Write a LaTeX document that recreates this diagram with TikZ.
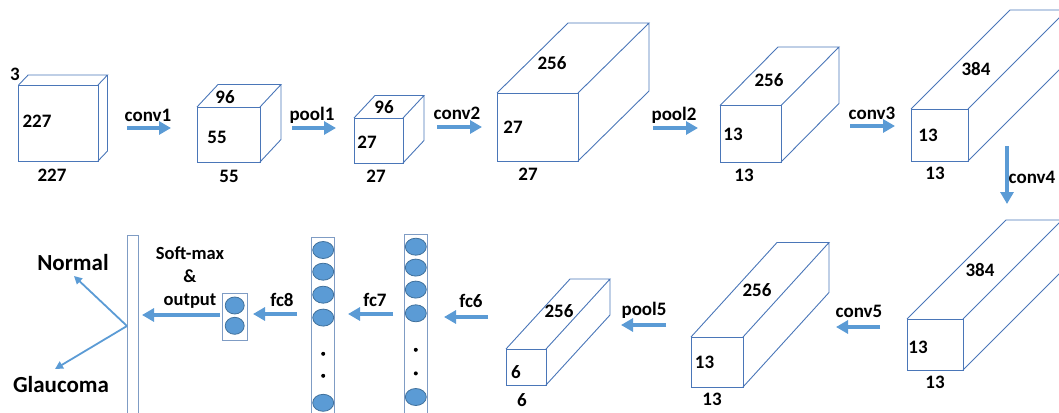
\documentclass[tikz,border=0pt]{standalone}
\usepackage{fontspec}
\setmainfont{Carlito}
\usetikzlibrary{arrows.meta,shapes.geometric}

\definecolor{edgeblue}{HTML}{4A76B8}
\definecolor{flowblue}{HTML}{5B9BD5}
\definecolor{cellline}{HTML}{41719C}
\definecolor{colline}{HTML}{7F9CC4}

% front corner (x1,y1), (x2,y2), depth (dx,dy)
\newcommand{\cuboid}[6]{%
  \draw[box] (#1,#2) rectangle (#3,#4);
  \draw[box] (#1,#2) -- ++(#5,-#6) -- ++({#3-#1},0) -- ++({-#5},#6)
    (#3,#4) -- ++(#5,-#6) -- ++(0,{#2-#4});
}

\begin{document}
\begin{tikzpicture}[x=1pt,y=-1pt,
  box/.style={edgeblue, line width=0.9pt},
  lbl/.style={font=\bfseries\fontsize{19}{20}\selectfont, inner sep=0pt},
  big/.style={font=\bfseries\fontsize{23}{25}\selectfont, inner sep=0pt},
  flow/.style={flowblue, line width=4.5pt, -{Triangle[length=12pt,width=13pt]}},
  ptr/.style={flowblue, line width=1.8pt, -{Triangle[length=8pt,width=8pt]}},
  cell/.style={ellipse, draw=cellline, fill=flowblue, line width=0.8pt,
    minimum width=21pt, minimum height=17pt, inner sep=0pt},
  col/.style={colline, line width=1pt}]

\useasboundingbox (0,0) rectangle (1059,412);

% top row
\cuboid{18.6}{85}{98}{161}{9.5}{10}
\node[lbl] (in-d) at (15,74) {3};
\node[lbl] (in-h) at (37,121) {227};
\node[lbl] (in-w) at (52,175) {227};

\cuboid{197}{107}{260}{162}{21}{22.5}
\node[lbl] (c1-d) at (225,97) {96};
\node[lbl] (c1-h) at (217,137) {55};
\node[lbl] (c1-w) at (229,176) {55};

\cuboid{354}{118}{403}{163}{21}{22.5}
\node[lbl] (p1-d) at (384,107) {96};
\node[lbl] (p1-h) at (367,142) {27};
\node[lbl] (p1-w) at (376,176) {27};

\cuboid{497}{93}{578}{161}{71}{70}
\node[lbl] (c2-d) at (552,63) {256};
\node[lbl] (c2-h) at (513,127) {27};
\node[lbl] (c2-w) at (528,174) {27};

\cuboid{720}{105.6}{781}{162}{58}{58.6}
\node[lbl] (p2-d) at (769,80) {256};
\node[lbl] (p2-h) at (733,134) {13};
\node[lbl] (p2-w) at (744,175) {13};

\cuboid{911}{109}{968}{161}{99}{99}
\node[lbl] (c3-d) at (976,69) {384};
\node[lbl] (c3-h) at (928,135) {13};
\node[lbl] (c3-w) at (935,173) {13};

% bottom row
\cuboid{907}{319}{963}{370}{99}{99}
\node[lbl] (c4-d) at (980,270) {384};
\node[lbl] (c4-h) at (918,347) {13};
\node[lbl] (c4-w) at (935,382) {13};

\cuboid{691}{337}{743}{387}{86}{94.5}
\node[lbl] (c5-d) at (757,290) {256};
\node[lbl] (c5-h) at (704.5,362) {13};
\node[lbl] (c5-w) at (712,399) {13};

\cuboid{506}{349}{546}{385}{64}{70}
\node[lbl] (p5-d) at (559,311) {256};
\node[lbl] (p5-h) at (516,372) {6};
\node[lbl] (p5-w) at (522,400) {6};

% arrows
\coordinate (a1s) at (127,128);  \coordinate (a1e) at (171,128);
\coordinate (a2s) at (292,128);  \coordinate (a2e) at (336,128);
\coordinate (a3s) at (437,127);  \coordinate (a3e) at (482,127);
\coordinate (a4s) at (653,128);  \coordinate (a4e) at (698,128);
\coordinate (a5s) at (850,126);  \coordinate (a5e) at (895,126);
\coordinate (a6s) at (1007,146); \coordinate (a6e) at (1007,204);
\coordinate (a7s) at (880,327);  \coordinate (a7e) at (836,327);
\coordinate (a8s) at (666,325);  \coordinate (a8e) at (621,325);
\coordinate (a9s) at (488,317);  \coordinate (a9e) at (444,317);
\coordinate (a10s) at (393,314); \coordinate (a10e) at (348,314);
\coordinate (a11s) at (297,314); \coordinate (a11e) at (253,314);
\coordinate (a12s) at (220,315); \coordinate (a12e) at (142,315);

\draw[flow] (a1s) -- (a1e);
\draw[flow] (a2s) -- (a2e);
\draw[flow] (a3s) -- (a3e);
\draw[flow] (a4s) -- (a4e);
\draw[flow] (a5s) -- (a5e);
\draw[flow] (a6s) -- (a6e);
\draw[flow] (a7s) -- (a7e);
\draw[flow] (a8s) -- (a8e);
\draw[flow] (a9s) -- (a9e);
\draw[flow] (a10s) -- (a10e);
\draw[flow] (a11s) -- (a11e);
\draw[flow] (a12s) -- (a12e);

\node[lbl] (l1) at (148,115) {conv1};
\node[lbl] (l2) at (312,115) {pool1};
\node[lbl] (l3) at (457,113) {conv2};
\node[lbl] (l4) at (674,115) {pool2};
\node[lbl] (l5) at (872,113) {conv3};
\node[lbl] (l6) at (1032,177) {conv4};
\node[lbl] (l7) at (859,311.5) {conv5};
\node[lbl] (l8) at (644,310) {pool5};
\node[lbl] (l9) at (471,301) {fc6};
\node[lbl] (l10) at (375,300) {fc7};
\node[lbl] (l11) at (282,300) {fc8};
\node[lbl, align=center, font=\bfseries\fontsize{18.5}{23}\selectfont] (l12) at (190,278) {Soft-max\\\&\\output};

% fully connected columns
\draw[col] (404,234) rectangle (427.6,420);
\foreach \y [count=\i] in {246.7,267.6,289.6,313.3,397}
  \node[cell] (f6-\i) at (415.8,\y) {};
\fill (415.8,349.8) circle[radius=2pt] (415.8,373.4) circle[radius=2pt];

\draw[col] (311.7,237) rectangle (334.7,420);
\foreach \y [count=\i] in {250,271.7,294.7,317.6,402.8}
  \node[cell] (f7-\i) at (323.2,\y) {};
\fill (323.2,353.8) circle[radius=2pt] (323.2,375.8) circle[radius=2pt];

\draw[col] (222.5,293.6) rectangle (247,340);
\foreach \y [count=\i] in {305.5,325.8}
  \node[cell, minimum width=19pt] (f8-\i) at (234.7,\y) {};

% soft-max layer and classes
\draw[col] (127,235) rectangle (138,420);
\coordinate (sm) at (127,326);
\node[big] (normal) at (73,262.5) {Normal};
\node[big] (glauc) at (61,385) {Glaucoma};
\coordinate (nrm) at (74,276);
\coordinate (glc) at (55,369);
\draw[ptr] (sm) -- (nrm);
\draw[ptr] (sm) -- (glc);

\end{tikzpicture}
\end{document}
